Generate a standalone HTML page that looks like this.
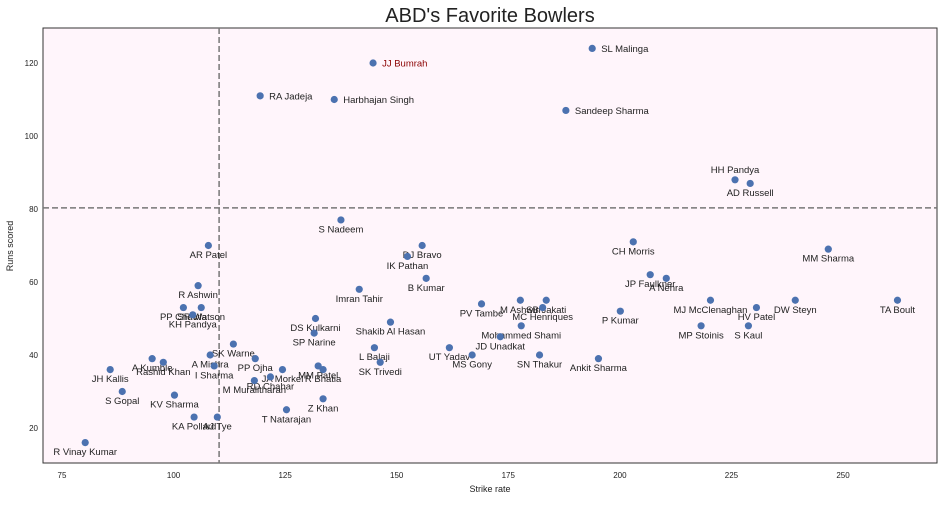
<!DOCTYPE html>
<html><head><meta charset="utf-8"><style>
body{margin:0;background:#fff;font-family:"Liberation Sans",sans-serif}
svg text{font-family:"Liberation Sans",sans-serif}
</style></head><body>
<svg id="c" width="944" height="501" xmlns="http://www.w3.org/2000/svg">
<text x="490" y="22" text-anchor="middle" font-size="20" fill="#222">ABD's Favorite Bowlers</text>
<rect x="43" y="28" width="894" height="435" fill="#fff5fb" stroke="#333" stroke-width="1"/>
<g id="ticks"></g>
<g id="lines"></g>
<g id="pts"></g>
<text x="490" y="492" text-anchor="middle" font-size="9" fill="#222">Strike rate</text>
<text transform="translate(13,246) rotate(-90)" text-anchor="middle" font-size="9" fill="#222">Runs scored</text>
</svg>
<script>
const names=["SL Malinga","JJ Bumrah","RA Jadeja","Harbhajan Singh","Sandeep Sharma","HH Pandya","AD Russell","S Nadeem","AR Patel","R Ashwin","PP Chawla","SR Watson","KH Pandya","SK Warne","A Mishra","I Sharma","A Kumble","Rashid Khan","JH Kallis","S Gopal","KV Sharma","KA Pollard","AJ Tye","R Vinay Kumar","PP Ojha","JA Morkel","RD Chahar","M Muralitharan","MM Patel","R Bhatia","Z Khan","T Natarajan","DS Kulkarni","SP Narine","Imran Tahir","DJ Bravo","IK Pathan","B Kumar","PV Tambe","M Ashwin","SB Jakati","MC Henriques","Mohammed Shami","JD Unadkat","Shakib Al Hasan","L Balaji","SK Trivedi","UT Yadav","MS Gony","SN Thakur","Ankit Sharma","P Kumar","CH Morris","JP Faulkner","A Nehra","MJ McClenaghan","HV Patel","DW Steyn","TA Boult","MP Stoinis","S Kaul","MM Sharma"];
const strikeRate=[193.8,144.7,119.4,136.0,187.9,225.8,229.2,137.5,107.8,105.5,102.2,106.2,104.3,113.4,108.2,109.1,95.2,97.7,85.8,88.5,100.2,104.6,109.8,80.2,118.3,124.4,121.7,118.1,132.4,133.5,133.5,125.3,131.8,131.5,141.6,155.7,152.4,156.6,169.0,177.7,183.5,182.7,177.9,173.2,148.6,145.0,146.3,161.8,166.9,182.0,195.2,200.1,203.0,206.8,210.4,220.3,230.6,239.3,262.2,218.2,228.8,246.7];
const runs=[124,120,111,110,107,88,87,77,70,59,53,53,51,43,40,37,39,38,36,30,29,23,23,16,39,36,34,33,37,36,28,25,50,46,58,70,67,61,54,55,55,53,48,45,49,42,38,42,40,40,39,52,71,62,61,55,53,55,55,48,48,69];
const labelSide=["right","right","right","right","right","above","below","below","below","below","below","below","below","below","below","below","below","below","below","below","below","below","below","below","below","below","below","below","below","below","below","below","below","below","below","below","below","below","below","below","below","below","below","below","below","below","below","below","below","below","below","below","below","below","below","below","below","below","below","below","below","below"];
const xTicks=[75,100,125,150,175,200,225,250];
const yTicks=[20,40,60,80,100,120];
const meanSR=110.2, meanRuns=80.3;
const X=v=>62+(v-75)*4.463, Y=v=>63+(120-v)*3.65;
const NS="http://www.w3.org/2000/svg";
function mk(t,a,p,txt){const e=document.createElementNS(NS,t);for(const k in a)e.setAttribute(k,a[k]);if(txt!=null)e.textContent=txt;p.appendChild(e);return e;}
const tk=document.getElementById('ticks');
xTicks.forEach(v=>{const e=mk('text',{x:X(v),y:478,'text-anchor':'middle','font-size':'8','fill':'#222'},tk,v);

});
yTicks.forEach(v=>{const e=mk('text',{x:38,y:Y(v)+3,'text-anchor':'end','font-size':'8','fill':'#222'},tk,v);

});
const ln=document.getElementById('lines');
const vl=mk('line',{x1:X(meanSR),x2:X(meanSR),y1:28,y2:463,stroke:'#777','stroke-width':1.5,'stroke-dasharray':'6,3'},ln);


const hl=mk('line',{x1:43,x2:937,y1:Y(meanRuns),y2:Y(meanRuns),stroke:'#777','stroke-width':1.5,'stroke-dasharray':'6,3'},ln);


const pg=document.getElementById('pts');
names.forEach((n,i)=>{const cx=X(strikeRate[i]),cy=Y(runs[i]);
const c=mk('circle',{cx:cx,cy:cy,r:3.6,fill:'#4c72b0'},pg);


let a;const s=labelSide[i];
if(s==='right')a={x:cx+9,y:cy+3.5,'text-anchor':'start'};
else if(s==='above')a={x:cx,y:cy-7,'text-anchor':'middle'};
else a={x:cx,y:cy+12.5,'text-anchor':'middle'};
a['font-size']='9.5';a.fill=(n==='JJ Bumrah')?'#8b0000':'#222';
const t=mk('text',a,pg,n);

});
</script>
</body></html>
